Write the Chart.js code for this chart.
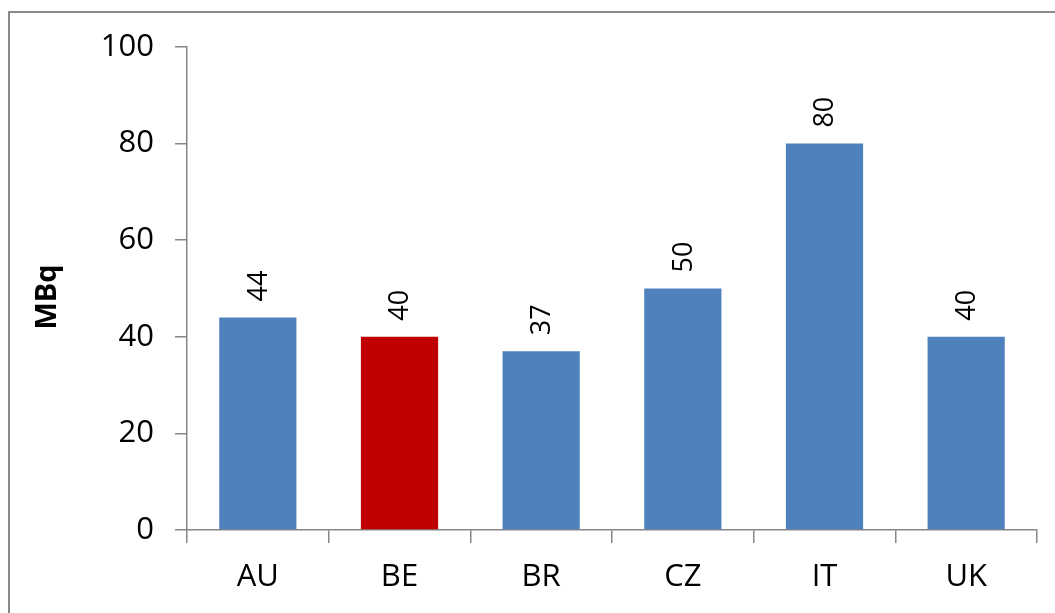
<!DOCTYPE html>
<html>
<head>
<meta charset="utf-8">
<script src="https://cdn.jsdelivr.net/npm/chart.js@4"></script>
<style>
    body { margin: 0; background: #fff; }
    #wrap { position: relative; width: 1055px; height: 613px; overflow: hidden; }
    #frame {
        position: absolute; left: 8px; top: 11px; width: 1200px; height: 800px;
        border: 2px solid #898989; pointer-events: none;
    }
</style>
</head>
<body>
<div id="wrap">
    <canvas id="chart1" width="1055" height="613"></canvas>
    <div id="frame"></div>
</div>
<script>
    const countries = ['AU', 'BE', 'BR', 'CZ', 'IT', 'UK'];
    const activity = [44, 40, 37, 50, 80, 40];
    const barColors = ['#4F81BD', '#C00000', '#4F81BD', '#4F81BD', '#4F81BD', '#4F81BD'];
    const yTicks = [0, 20, 40, 60, 80, 100];
    const yTitle = 'MBq';

    const fontFamily = '"Open Sans", "Noto Sans", sans-serif';
    const axisGray = '#868686';

    // value written vertically above each bar, plus the y axis title
    const barValues = {
        id: 'barValues',
        afterDatasetsDraw(chart) {
            const ctx = chart.ctx;
            const meta = chart.getDatasetMeta(0);
            ctx.save();
            ctx.fillStyle = '#000';
            ctx.font = '27px ' + fontFamily;
            ctx.textAlign = 'left';
            ctx.textBaseline = 'middle';
            meta.data.forEach((bar, i) => {
                ctx.save();
                ctx.translate(bar.x + 1, bar.y - 16);
                ctx.rotate(-Math.PI / 2);
                ctx.fillText(String(activity[i]), 0, 0);
                ctx.restore();
            });

            ctx.font = 'bold 29px ' + fontFamily;
            ctx.textAlign = 'center';
            ctx.translate(48, 297);
            ctx.rotate(-Math.PI / 2);
            ctx.fillText(yTitle, 0, 0);
            ctx.restore();
        }
    };

    let myChart1 = document.getElementById('chart1').getContext('2d');
    let barChart1 = new Chart(myChart1, {
        type: 'bar',
        data: {
            labels: countries,
            datasets: [{
                data: activity,
                backgroundColor: barColors,
                borderWidth: 0,
                categoryPercentage: 1,
                barPercentage: 0.545
            }]
        },
        options: {
            responsive: false,
            animation: false,
            layout: {
                padding: { left: 26, top: 47, right: 18, bottom: 0 }
            },
            plugins: {
                legend: { display: false },
                tooltip: { enabled: false }
            },
            scales: {
                y: {
                    min: 0,
                    max: 100,
                    afterBuildTicks: (scale) => {
                        scale.ticks = yTicks.map(v => ({ value: v }));
                    },
                    afterFit: (scale) => { scale.width = 161; },
                    ticks: {
                        color: '#000',
                        padding: 21,
                        font: { family: fontFamily, size: 31 }
                    },
                    grid: {
                        drawOnChartArea: false,
                        color: axisGray,
                        tickLength: 12,
                        lineWidth: 1.5
                    },
                    border: { color: axisGray, width: 1.5 }
                },
                x: {
                    afterFit: (scale) => { scale.height = 83; },
                    ticks: {
                        color: '#000',
                        padding: 16,
                        font: { family: fontFamily, size: 31 }
                    },
                    grid: {
                        drawOnChartArea: false,
                        color: axisGray,
                        tickLength: 13,
                        lineWidth: 1.5
                    },
                    border: { color: axisGray, width: 1.5 }
                }
            }
        },
        plugins: [barValues]
    });
</script>
</body>
</html>
